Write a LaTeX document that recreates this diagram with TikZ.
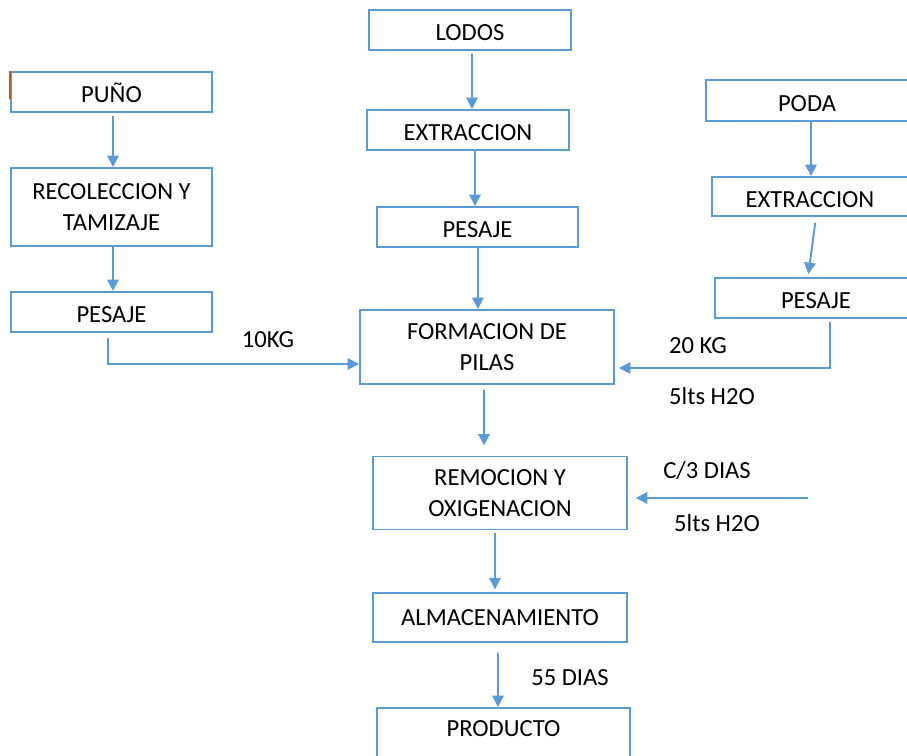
\documentclass[tikz,border=0pt]{standalone}
\usepackage{fontspec}
\setmainfont{Carlito}
\usetikzlibrary{arrows.meta}
\definecolor{flowblue}{RGB}{91,155,213}
\definecolor{markbrown}{RGB}{176,98,36}
\tikzset{
  box/.style={draw=flowblue,line width=1.1pt,align=center,inner sep=0pt,
    font=\fontsize{14}{17.5}\selectfont},
  oneline/.style={text height=12pt,text depth=0pt},
  flow/.style={draw=flowblue,line width=1.1pt,
    -{Triangle[length=6.5pt,width=6.5pt]}},
  lbl/.style={font=\fontsize{14}{17.5}\selectfont,inner sep=0pt}
}

\begin{document}
\begin{tikzpicture}[x=0.02cm,y=-0.02cm]
   \useasboundingbox (0,0) rectangle (907,756);
   % left column
   \node[box,oneline,minimum width=4.02cm,minimum height=0.8cm] (puno) at (111.5,92) {PUÑO};
   \node[box,minimum width=4.02cm,minimum height=1.56cm] (recol) at (111.5,207) {RECOLECCION Y\\TAMIZAJE};
   \node[box,oneline,minimum width=4.02cm,minimum height=0.8cm] (pesizq) at (111.5,312) {PESAJE};
   \draw[markbrown,line width=0.8pt] (puno.north west) -- ++(0,28);
   % middle column
   \node[box,oneline,minimum width=4.04cm,minimum height=0.8cm] (lodos) at (470,30) {LODOS};
   \node[box,oneline,minimum width=4.04cm,minimum height=0.8cm] (extcen) at (468,130) {EXTRACCION};
   \node[box,oneline,minimum width=4.02cm,minimum height=0.8cm] (pescen) at (477.5,227) {PESAJE};
   \node[box,minimum width=5.08cm,minimum height=1.48cm] (pilas) at (487,347) {FORMACION DE\\PILAS};
   \node[box,minimum width=5.08cm,minimum height=1.46cm] (remo) at (500,493) {REMOCION Y\\OXIGENACION};
   \node[box,minimum width=5.08cm,minimum height=0.98cm] (alma) at (500,617.5) {ALMACENAMIENTO};
   \node[box,text height=9pt,text depth=11.4pt,minimum width=5.06cm,minimum height=1.24cm] (prod) at (503.5,739) {PRODUCTO};
   % right column
   \node[box,oneline,minimum width=4.04cm,minimum height=0.82cm] (poda) at (807,100.5) {PODA};
   \node[box,oneline,minimum width=3.92cm,minimum height=0.78cm] (extder) at (810,196.5) {EXTRACCION};
   \node[box,oneline,minimum width=4.04cm,minimum height=0.8cm] (pesder) at (816,298) {PESAJE};
   % labels
   \node[lbl] (kgizq) at (268,340) {10KG};
   \node[lbl] (kgder) at (698,346) {20 KG};
   \node[lbl] (aguaa) at (712,396) {5lts H2O};
   \node[lbl] (cada)  at (707,470) {C/3 DIAS};
   \node[lbl] (aguab) at (717,523) {5lts H2O};
   \node[lbl] (dias)  at (570,678) {55 DIAS};
   \coordinate (entrada) at (808,498);
   % connectors
   \draw[flow,shorten <=1.5pt] ([xshift=0.3mm]puno.south) -- ([xshift=0.3mm]recol.north);
   \draw[flow] ([xshift=0.3mm]recol.south) -- ([xshift=0.3mm]pesizq.north);
   \draw[flow,shorten <=2.8pt] ([xshift=-0.7mm]pesizq.south) |- ([yshift=-3.4mm]pilas.west);
   \draw[flow,shorten <=1.5pt] ([xshift=0.4mm]lodos.south) -- ([xshift=0.8mm]extcen.north);
   \draw[flow] ([xshift=1.4mm]extcen.south) -- ([xshift=-0.5mm]pescen.north);
   \draw[flow] ([xshift=0.1mm]pescen.south) -- ([xshift=-1.8mm]pilas.north);
   \draw[flow,shorten <=2.8pt,shorten >=5.7pt] ([xshift=-0.6mm]pilas.south) -- ([xshift=-3.2mm]remo.north);
   \draw[flow,shorten >=4.5pt] (entrada) -- ([yshift=-1mm]remo.east);
   \draw[flow,shorten <=1.5pt,shorten >=1.5pt] ([xshift=-1mm]remo.south) -- ([xshift=-1mm]alma.north);
   \draw[flow,shorten <=5.7pt] ([xshift=-0.4mm]alma.south) -- ([xshift=-1.1mm]prod.north);
   \draw[flow] ([xshift=0.8mm]poda.south) -- ([xshift=0.2mm]extder.north);
   \draw[flow,shorten <=3.4pt,shorten >=1.7pt] ([xshift=1.2mm]extder.south) -- ([xshift=-1.6mm]pesder.north);
   \draw[flow,shorten <=1.7pt,shorten >=2.3pt] ([xshift=2.8mm]pesder.south) |- ([yshift=-4.2mm]pilas.east);
\end{tikzpicture}
\end{document}
